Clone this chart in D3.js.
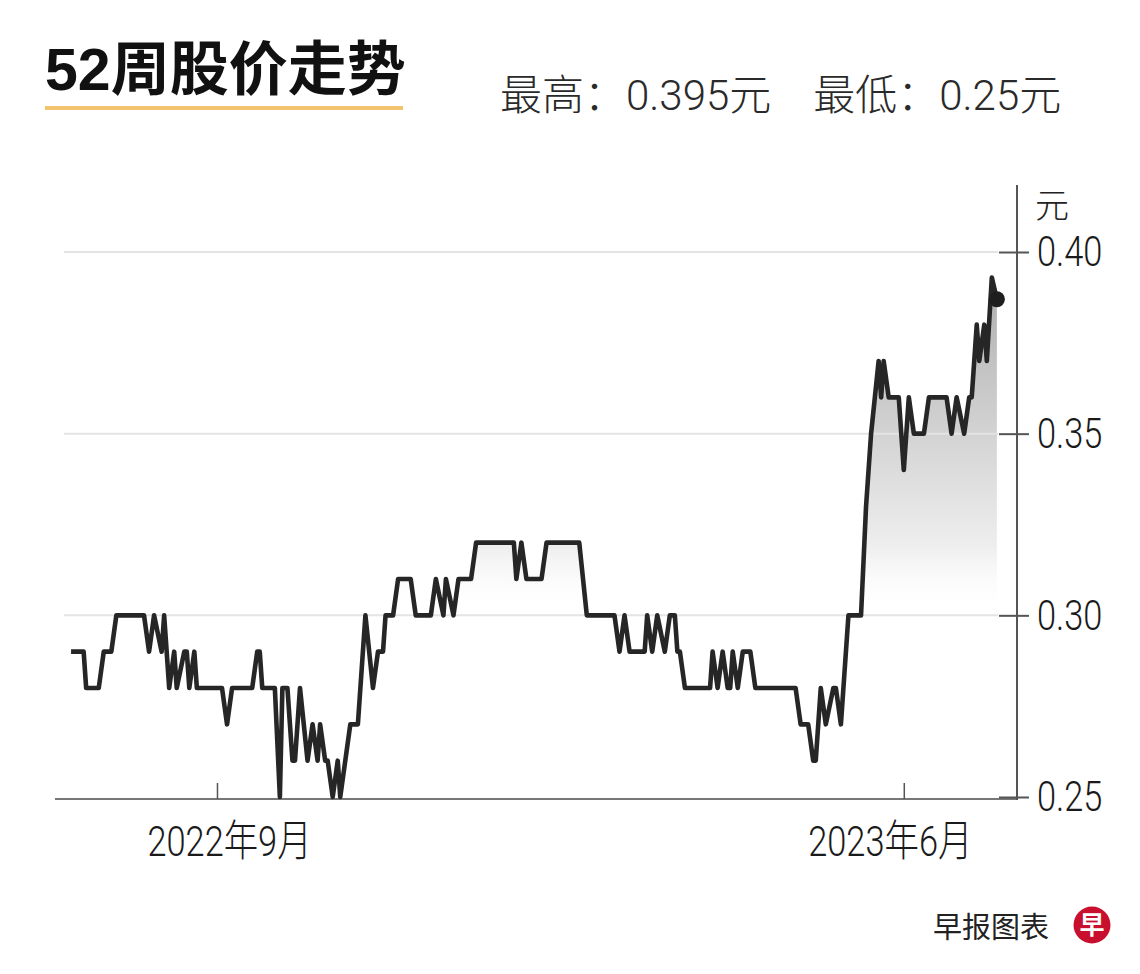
<!DOCTYPE html>
<html>
<head>
<meta charset="utf-8">
<script src="https://cdn.jsdelivr.net/npm/d3@7"></script>
<style>
  html, body { margin: 0; padding: 0; background: #fff; }
  svg { display: block; }
</style>
</head>
<body>
<svg id="chart" width="1140" height="974"></svg>
<script>
"use strict";
// 52-week price data, vertices
const tradeDates = [
  "2022-07-05","2022-07-10","2022-07-11","2022-07-16","2022-07-18","2022-07-21","2022-07-23","2022-08-03",
  "2022-08-05","2022-08-07","2022-08-10","2022-08-11","2022-08-13","2022-08-15","2022-08-16","2022-08-19",
  "2022-08-20","2022-08-21","2022-08-23","2022-08-24","2022-09-03","2022-09-05","2022-09-07","2022-09-15",
  "2022-09-17","2022-09-18","2022-09-19","2022-09-24","2022-09-26","2022-09-27","2022-09-29","2022-10-01",
  "2022-10-02","2022-10-04","2022-10-07","2022-10-09","2022-10-11","2022-10-12","2022-10-14","2022-10-15",
  "2022-10-17","2022-10-19","2022-10-20","2022-10-24","2022-10-27","2022-10-30","2022-11-02","2022-11-04",
  "2022-11-06","2022-11-07","2022-11-10","2022-11-12","2022-11-17","2022-11-19","2022-11-25","2022-11-27",
  "2022-11-30","2022-12-01","2022-12-04","2022-12-06","2022-12-11","2022-12-13","2022-12-28","2022-12-29",
  "2022-12-31","2023-01-02","2023-01-08","2023-01-10","2023-01-23","2023-01-26","2023-02-06","2023-02-08",
  "2023-02-10","2023-02-12","2023-02-18","2023-02-19","2023-02-21","2023-02-23","2023-02-26","2023-02-28",
  "2023-03-02","2023-03-03","2023-03-04","2023-03-06","2023-03-16","2023-03-17","2023-03-19","2023-03-21",
  "2023-03-23","2023-03-24","2023-03-25","2023-03-27","2023-03-29","2023-04-01","2023-04-03","2023-04-19",
  "2023-04-21","2023-04-24","2023-04-26","2023-04-27","2023-04-29","2023-05-01","2023-05-04","2023-05-05",
  "2023-05-07","2023-05-10","2023-05-15","2023-05-17","2023-05-19","2023-05-22","2023-05-23","2023-05-24",
  "2023-05-26","2023-05-30","2023-06-01","2023-06-03","2023-06-05","2023-06-09","2023-06-11","2023-06-18",
  "2023-06-20","2023-06-22","2023-06-25","2023-06-27","2023-06-28","2023-06-30","2023-07-01","2023-07-03",
  "2023-07-04","2023-07-06","2023-07-08"
];
const closePrices = [
  0.29,0.29,0.28,0.28,0.29,0.29,0.30,0.30,
  0.29,0.30,0.29,0.30,0.28,0.29,0.28,0.29,
  0.29,0.28,0.29,0.28,0.28,0.27,0.28,0.28,
  0.29,0.29,0.28,0.28,0.25,0.28,0.28,0.26,
  0.26,0.28,0.26,0.27,0.26,0.27,0.26,0.26,
  0.25,0.26,0.25,0.27,0.27,0.30,0.28,0.29,
  0.29,0.30,0.30,0.31,0.31,0.30,0.30,0.31,
  0.30,0.31,0.30,0.31,0.31,0.32,0.32,0.31,
  0.32,0.31,0.31,0.32,0.32,0.30,0.30,0.29,
  0.30,0.29,0.29,0.30,0.29,0.30,0.29,0.30,
  0.30,0.29,0.29,0.28,0.28,0.29,0.28,0.29,
  0.28,0.28,0.29,0.28,0.29,0.29,0.28,0.28,
  0.27,0.27,0.26,0.26,0.28,0.27,0.28,0.28,
  0.27,0.30,0.30,0.33,0.35,0.37,0.36,0.37,
  0.36,0.36,0.34,0.36,0.35,0.35,0.36,0.36,
  0.35,0.36,0.35,0.36,0.36,0.38,0.37,0.38,
  0.37,0.393,0.387
];
const yTicks = [0.25, 0.30, 0.35, 0.40];
const gridValues = [0.30, 0.35, 0.40];
const xTickDates = ["2022-09-01", "2023-06-01"];

const titleText = "52周股价走势";
const rangeText = "最高：0.395元　最低：0.25元";
const unitText = "元";
const sourceText = "早报图表";

const parse = d3.timeParse("%Y-%m-%d");
const data = tradeDates.map((d, i) => ({ date: parse(d), value: closePrices[i] }));

const svg = d3.select("#chart");
const cjk = "'Noto Sans CJK SC', sans-serif";
const latin = "Roboto, 'Noto Sans CJK SC', sans-serif";
// the month labels in the original sit a little off their ticks
const xLabelNudge = [12, -14];

const x = d3.scaleTime()
  .domain([new Date(2022, 6, 1), new Date(2023, 6, 16)])
  .range([61, 1017]);
const y = d3.scaleLinear().domain([0.25, 0.40]).range([797, 252]);

// gradient under the line
const defs = svg.append("defs");
const grad = defs.append("linearGradient")
  .attr("id", "fillGrad")
  .attr("gradientUnits", "userSpaceOnUse")
  .attr("x1", 0).attr("x2", 0)
  .attr("y1", y(0.395)).attr("y2", y(0.30));
grad.append("stop").attr("offset", 0).attr("stop-color", "#acacac");
grad.append("stop").attr("offset", 0.8).attr("stop-color", "#eeeeee");
grad.append("stop").attr("offset", 1).attr("stop-color", "#ffffff").attr("stop-opacity", 0);

const area = d3.area()
  .x(d => x(d.date))
  .y0(y(0.30))
  .y1(d => y(d.value));
svg.append("path")
  .datum(data)
  .attr("d", area)
  .attr("fill", "url(#fillGrad)");

// gridlines
svg.append("g").selectAll("line").data(gridValues).join("line")
  .attr("x1", 64).attr("x2", 998)
  .attr("y1", d => y(d)).attr("y2", d => y(d))
  .attr("stroke", "#e4e4e4").attr("stroke-width", 2);

// bottom axis
svg.append("line")
  .attr("x1", 55).attr("x2", 1017)
  .attr("y1", 799).attr("y2", 799)
  .attr("stroke", "#777").attr("stroke-width", 2);

const xAxis = svg.append("g")
  .attr("transform", "translate(0,799)")
  .call(d3.axisBottom(x)
    .tickValues(xTickDates.map(parse))
    .tickFormat(d3.timeFormat("%Y年%-m月"))
    .tickSize(-16)
    .tickPadding(26));
xAxis.select(".domain").remove();
xAxis.selectAll(".tick line").attr("stroke", "#555").attr("stroke-width", 1.5);
xAxis.selectAll(".tick text")
  .attr("font-family", latin)
  .attr("font-weight", 300)
  .attr("font-size", 43)
  .attr("fill", "#1a1a1a")
  .attr("transform", (d, i) => `translate(${xLabelNudge[i]},0) scale(0.8,1)`);

// right axis
svg.append("line")
  .attr("x1", 1017).attr("x2", 1017)
  .attr("y1", 185).attr("y2", 800)
  .attr("stroke", "#555").attr("stroke-width", 2);

const yAxis = svg.append("g")
  .attr("transform", "translate(1017,0)")
  .call(d3.axisRight(y)
    .tickValues(yTicks)
    .tickFormat(d3.format(".2f"))
    .tickSize(12));
yAxis.select(".domain").remove();
yAxis.selectAll(".tick line")
  .attr("x1", -18)
  .attr("stroke", "#555").attr("stroke-width", 2);
yAxis.selectAll(".tick text")
  .attr("x", 0)
  .attr("font-family", latin)
  .attr("font-weight", 300)
  .attr("font-size", 43)
  .attr("fill", "#1a1a1a")
  .attr("transform", "translate(20,0) scale(0.8,1)");

svg.append("text")
  .attr("x", 1035).attr("y", 218)
  .attr("font-family", cjk).attr("font-weight", 300).attr("font-size", 34)
  .attr("fill", "#222")
  .text(unitText);

// price line
const line = d3.line()
  .x(d => x(d.date))
  .y(d => y(d.value));
svg.append("path")
  .datum(data)
  .attr("d", line)
  .attr("fill", "none")
  .attr("stroke", "#262626")
  .attr("stroke-width", 4.6)
  .attr("stroke-linejoin", "round");

const last = data[data.length - 1];
svg.append("circle")
  .attr("cx", x(last.date)).attr("cy", y(last.value))
  .attr("r", 8).attr("fill", "#1e1e1e");

// header
svg.append("text")
  .attr("x", 45).attr("y", 90)
  .attr("font-family", "'Liberation Sans', 'Noto Sans CJK SC', sans-serif")
  .attr("font-weight", 700).attr("font-size", 59)
  .attr("fill", "#111")
  .text(titleText);
svg.append("rect")
  .attr("x", 45).attr("y", 106)
  .attr("width", 358).attr("height", 4)
  .attr("fill", "#f4c36e");
svg.append("text")
  .attr("x", 500).attr("y", 110)
  .attr("font-family", latin).attr("font-weight", 300).attr("font-size", 42)
  .attr("fill", "#2a2a2a")
  .text(rangeText);

// source footer
svg.append("text")
  .attr("x", 933).attr("y", 938)
  .attr("font-family", cjk).attr("font-size", 29)
  .attr("fill", "#222")
  .text(sourceText);
svg.append("circle")
  .attr("cx", 1092).attr("cy", 925).attr("r", 18.5)
  .attr("fill", "#c8102e");
svg.append("text")
  .attr("x", 1092).attr("y", 934)
  .attr("text-anchor", "middle")
  .attr("font-family", cjk).attr("font-weight", 700).attr("font-size", 25)
  .attr("fill", "#fff")
  .text("早");
</script>
</body>
</html>
